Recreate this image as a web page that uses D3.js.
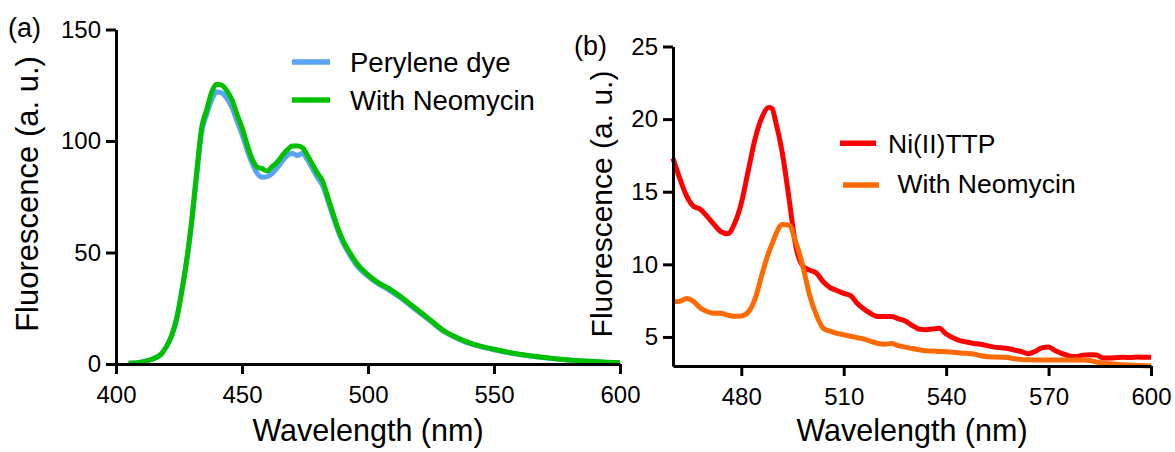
<!DOCTYPE html>
<html>
<head>
<meta charset="utf-8">
<script src="https://cdn.jsdelivr.net/npm/d3@7/dist/d3.min.js"></script>
<style>
  body { margin: 0; background: #fff; }
  svg { display: block; font-family: "Liberation Sans", Arial, sans-serif; }
  .axis text { font-size: 24px; fill: #000; }
</style>
</head>
<body>
<svg id="chart" width="1175" height="452"></svg>
<script>
// panel (a) - perylene dye
var nmA = [405, 410, 414, 418, 420, 422, 424, 426, 428, 430, 432, 434, 436, 438, 440, 442, 444, 446, 448, 450,
    452, 454, 456, 458, 460, 462, 464, 466, 468, 470, 472, 474, 476, 478, 480, 482, 484, 486, 488, 490,
    493, 496, 500, 504, 508, 512, 516, 520, 525, 530, 535, 540, 545, 550, 555, 560, 565, 570, 575, 580,
    585, 590, 595, 600];
var perylene = [0.3, 0.8, 2, 4.5, 7.8, 12.5, 20, 32, 46, 63, 84, 104, 112, 118.5, 122, 121.5, 119, 115, 109, 103,
    96, 90, 85.5, 83.7, 84, 85.5, 88, 91, 93.5, 94.5, 93.5, 94.5, 91.5, 87.5, 83.5, 80, 73.5, 66.5, 60, 54.5,
    48.5, 43.5, 39.3, 36, 33.4, 30.4, 27, 23.4, 19, 14.6, 11.7, 9.3, 7.7, 6.4, 5.2, 4.3, 3.5, 2.8, 2.2, 1.7,
    1.3, 1.0, 0.7, 0.5];
var peryleneNeo = [0.3, 0.8, 2, 4.5, 7.8, 12.5, 20, 32, 46, 64, 86, 106, 114, 122, 125.5, 125, 122.5, 118.5, 112, 106,
    98.5, 92, 88.3, 87.6, 86.5, 88.5, 90.5, 93.5, 96, 97.8, 97.8, 97, 93.5, 89.5, 85.5, 82, 75, 68, 61, 55.6,
    49.5, 44.5, 40, 36.5, 34, 31, 27.5, 24, 19.5, 15, 12, 9.6, 7.9, 6.6, 5.4, 4.4, 3.6, 2.9, 2.3, 1.8,
    1.4, 1.1, 0.8, 0.6];
var xTicksA = [400, 450, 500, 550, 600];
var yTicksA = [0, 50, 100, 150];

// panel (b) - Ni(II)TTP
var nmB = [460, 462, 464, 466, 468, 470, 472, 474, 476, 478, 480, 482, 484, 486, 488, 489, 490, 492, 494, 496,
    498, 500, 502, 504, 506, 508, 510, 512, 514, 516, 518, 520, 522, 524, 526, 528, 530, 532, 534, 536,
    538, 540, 542, 544, 546, 548, 550, 552, 554, 556, 558, 560, 562, 564, 566, 568, 570, 572, 574, 576,
    578, 580, 582, 584, 586, 588, 590, 592, 594, 596, 598, 600];
var niTTP = [17.3, 15.9, 14.7, 14.0, 13.8, 13.3, 12.75, 12.25, 12.1, 12.8, 14.2, 16.4, 18.6, 20.1, 20.8, 20.75, 19.9, 17.7, 14.5, 11.2,
    9.9, 9.6, 9.4, 8.8, 8.4, 8.2, 8.0, 7.85, 7.3, 6.9, 6.6, 6.4, 6.4, 6.4, 6.25, 6.1, 5.8, 5.55, 5.5, 5.55,
    5.6, 5.2, 4.95, 4.75, 4.65, 4.55, 4.5, 4.4, 4.3, 4.25, 4.2, 4.1, 4.0, 3.85, 4.0, 4.25, 4.3, 4.05, 3.85, 3.7,
    3.65, 3.75, 3.78, 3.76, 3.55, 3.55, 3.58, 3.6, 3.58, 3.62, 3.6, 3.6];
var niTTPNeo = [7.43, 7.45, 7.65, 7.45, 7.0, 6.75, 6.63, 6.63, 6.5, 6.42, 6.45, 6.7, 7.6, 9.25, 10.8, 11.4, 12.0, 12.75, 12.7, 11.5,
    9.9, 7.9, 6.5, 5.6, 5.4, 5.25, 5.15, 5.05, 4.95, 4.85, 4.7, 4.55, 4.5, 4.55, 4.4, 4.3, 4.2, 4.12, 4.05, 4.03,
    4.0, 3.98, 3.95, 3.9, 3.87, 3.83, 3.72, 3.64, 3.62, 3.6, 3.58, 3.5, 3.45, 3.43, 3.42, 3.42, 3.41, 3.41, 3.41, 3.42,
    3.42, 3.41, 3.38, 3.28, 3.2, 3.16, 3.12, 3.08, 3.06, 3.04, 3.02, 3.0];
var xTicksB = [480, 510, 540, 570, 600];
var yTicksB = [5, 10, 15, 20, 25];

var svg = d3.select("#chart");

function drawPanel(p) {
    var x = d3.scaleLinear().domain(p.xDomain).range([p.left, p.right]);
    var y = d3.scaleLinear().domain(p.yDomain).range([p.bottom, p.top]);

    var line = d3.line()
        .x(function(d) { return x(d[0]); })
        .y(function(d) { return y(d[1]); })
        .curve(d3.curveMonotoneX);

    p.series.forEach(function(s) {
        svg.append("path")
            .datum(d3.zip(p.nm, s.values))
            .attr("fill", "none")
            .attr("stroke", s.color)
            .attr("stroke-width", 5)
            .attr("stroke-linejoin", "round")
            .attr("d", line);
    });

    var gx = svg.append("g")
        .attr("class", "axis")
        .attr("transform", "translate(0," + p.bottom + ")")
        .call(d3.axisBottom(x).tickValues(p.xTicks).tickSize(10).tickPadding(12).tickSizeOuter(0));

    var gy = svg.append("g")
        .attr("class", "axis")
        .attr("transform", "translate(" + p.left + ",0)")
        .call(d3.axisLeft(y).tickValues(p.yTicks).tickSize(10).tickPadding(5).tickSizeOuter(0));

    [gx, gy].forEach(function(g) {
        g.attr("font-family", null).attr("font-size", null);
        g.selectAll("path, line").attr("stroke", "#000").attr("stroke-width", 3);
    });

    // legend
    p.series.forEach(function(s, i) {
        var lg = p.legend[i];
        svg.append("line")
            .attr("x1", lg.x1).attr("x2", lg.x2)
            .attr("y1", lg.ly).attr("y2", lg.ly)
            .attr("stroke", s.color)
            .attr("stroke-width", 5.5);
        svg.append("text")
            .attr("x", lg.tx)
            .attr("y", lg.ty)
            .style("font-size", p.legendSize + "px")
            .text(s.name);
    });

    // axis titles
    svg.append("text")
        .attr("x", (p.left + p.right) / 2)
        .attr("y", 441)
        .attr("text-anchor", "middle")
        .style("font-size", "30.5px")
        .text("Wavelength (nm)");
    svg.append("text")
        .attr("transform", "translate(" + p.yTitleX + "," + p.yTitleY + ") rotate(-90)")
        .attr("text-anchor", "middle")
        .style("font-size", p.yTitleSize + "px")
        .text("Fluorescence (a. u.)");

    svg.append("text")
        .attr("x", p.tagX)
        .attr("y", p.tagY)
        .style("font-size", "27px")
        .text(p.tag);
}

drawPanel({
    nm: nmA, xDomain: [400, 600], yDomain: [0, 150],
    left: 116, right: 620, top: 29.5, bottom: 364,
    xTicks: xTicksA, yTicks: yTicksA,
    series: [
        {name: "Perylene dye", values: perylene, color: "#5ba3f7"},
        {name: "With Neomycin", values: peryleneNeo, color: "#00c000"}
    ],
    legend: [
        {x1: 292, x2: 330, ly: 62, tx: 350, ty: 72},
        {x1: 292, x2: 330, ly: 100, tx: 350, ty: 109.5}
    ],
    legendSize: 27.5,
    yTitleX: 38, yTitleY: 194, yTitleSize: 31,
    tag: "(a)", tagX: 8, tagY: 37
});

drawPanel({
    nm: nmB, xDomain: [460, 600], yDomain: [3, 25],
    left: 673, right: 1151, top: 46.5, bottom: 366,
    xTicks: xTicksB, yTicks: yTicksB,
    series: [
        {name: "Ni(II)TTP", values: niTTP, color: "#ff0000"},
        {name: " With Neomycin", values: niTTPNeo, color: "#ff6a00"}
    ],
    legend: [
        {x1: 840, x2: 876, ly: 143.3, tx: 888, ty: 153.3},
        {x1: 843, x2: 879, ly: 185, tx: 897.5, ty: 193.3}
    ],
    legendSize: 26.5,
    yTitleX: 612, yTitleY: 204, yTitleSize: 30,
    tag: "(b)", tagX: 574, tagY: 55
});
</script>
</body>
</html>
